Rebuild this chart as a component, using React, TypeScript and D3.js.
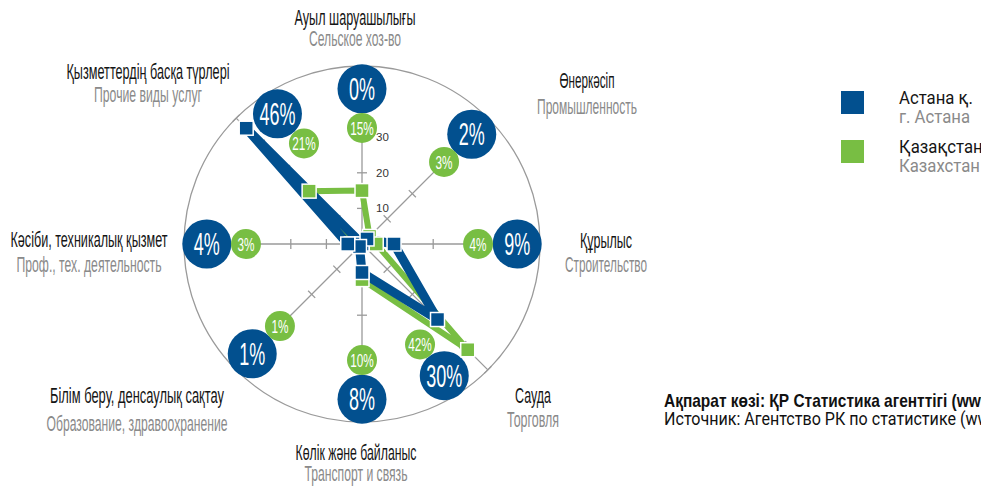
import React from 'react';
import * as d3 from 'd3';

// ---------- data ----------
const categoriesKz = [
  'Ауыл шаруашылығы',
  'Өнеркәсіп',
  'Құрылыс',
  'Сауда',
  'Көлік және байланыс',
  'Білім беру, денсаулық сақтау',
  'Кәсіби, техникалық қызмет',
  'Қызметтердің басқа түрлері',
];
const categoriesRu = [
  'Сельское хоз-во',
  'Промышленность',
  'Строительство',
  'Торговля',
  'Транспорт и связь',
  'Образование, здравоохранение',
  'Проф., тех. деятельность',
  'Прочие виды услуг',
];
const astanaValues = [0, 2, 9, 30, 8, 1, 4, 46];
const kazakhstanValues = [15, 3, 4, 42, 10, 1, 3, 21];
const radialTickValues = [10, 20, 30, 40, 50];
const radialTickLabels = [10, 20, 30];
const seriesNamesKz = ['Астана қ.', 'Қазақстан'];
const seriesNamesRu = ['г. Астана', 'Казахстан'];
const sourceKz = 'Ақпарат көзі: ҚР Статистика агенттігі (www.stat.gov.kz)';
const sourceRu = 'Источник: Агентство РК по статистике (www.stat.gov.kz)';

// ---------- layout ----------
const W = 981;
const H = 487;
const CX = 362;
const CY = 244;
const R = 178;
const BLUE = '#02508f';
const GREEN = '#78be43';
const GRID = '#9a9a9a';
const KZ_COLOR = '#151515';
const RU_COLOR = '#8a8a8a';
const LABEL_FONT = '"Liberation Sans Narrow", "Liberation Sans", Arial, sans-serif';

const labelLayout = [
  { x: 355, y1: 25, y2: 45.5, w1: 121, w2: 92 },
  { x: 587, y1: 88, y2: 114, w1: 55, w2: 100 },
  { x: 606, y1: 248, y2: 272, w1: 52, w2: 82 },
  { x: 533, y1: 403, y2: 427, w1: 36, w2: 52 },
  { x: 356, y1: 460, y2: 481, w1: 121, w2: 103 },
  { x: 137, y1: 403, y2: 431, w1: 174, w2: 181 },
  { x: 89, y1: 247, y2: 272, w1: 157, w2: 145 },
  { x: 148, y1: 79, y2: 102, w1: 163, w2: 108 },
];
const blueBubbleOffsetDeg = [0, 0, 0, 13, 0, 0, 0, 12];
const greenBubbleOffsetDeg = [0, 0, 0, 15, 0, 0, 0, 15];
const BLUE_BUBBLE_UNITS = 43.6;
const GREEN_BUBBLE_UNITS = 32.6;

export default function App() {
  const r = d3.scaleLinear().domain([0, 50]).range([0, R]);
  const ang = d3.scaleLinear().domain([0, categoriesKz.length]).range([0, 2 * Math.PI]);
  const pt = (v: number, i: number, offDeg = 0): [number, number] => {
    const a = ang(i) + (offDeg * Math.PI) / 180;
    return [CX + r(v) * Math.sin(a), CY - r(v) * Math.cos(a)];
  };
  const radial = d3
    .lineRadial<number>()
    .angle((_d, i) => ang(i))
    .radius((d) => r(d))
    .curve(d3.curveLinearClosed);

  const markerSize = 14;

  return (
    <svg
      width={W}
      height={H}
      style={{ position: 'absolute', left: 0, top: 0, background: '#fff' }}
      xmlns="http://www.w3.org/2000/svg"
    >
      {/* outer circle */}
      <circle cx={CX} cy={CY} r={r(50)} fill="none" stroke={GRID} strokeWidth={1.3} />

      {/* spokes and ticks */}
      {categoriesKz.map((_c, i) => {
        const [x2, y2] = pt(50, i);
        const a = ang(i);
        return (
          <g key={'sp' + i}>
            <line x1={CX} y1={CY} x2={x2} y2={y2} stroke={GRID} strokeWidth={1.3} />
            {radialTickValues.map((t) => {
              const [tx, ty] = pt(t, i);
              const dx = Math.cos(a) * 5;
              const dy = Math.sin(a) * 5;
              return (
                <line
                  key={t}
                  x1={tx - dx}
                  y1={ty - dy}
                  x2={tx + dx}
                  y2={ty + dy}
                  stroke={GRID}
                  strokeWidth={1.3}
                />
              );
            })}
          </g>
        );
      })}
      {radialTickLabels.map((t) => (
        <text
          key={'tl' + t}
          x={CX + 14}
          y={CY - r(t) + 4}
          fontSize={11.5}
          fontFamily='"Liberation Sans", Arial, sans-serif'
          fill="#333"
        >
          {t}
        </text>
      ))}

      {/* value bubbles */}
      {astanaValues.map((v, i) => {
        const [bx, by] = pt(BLUE_BUBBLE_UNITS, i, blueBubbleOffsetDeg[i]);
        return (
          <g key={'bb' + i}>
            <circle cx={bx} cy={by} r={24.5} fill={BLUE} />
            <text
              transform={`translate(${bx},${by}) scale(0.58,1)`}
              textAnchor="middle"
              dy="0.36em"
              fontSize={31}
              fontFamily='"Liberation Sans", Arial, sans-serif'
              fill="#fff"
            >
              {v + '%'}
            </text>
          </g>
        );
      })}
      {kazakhstanValues.map((v, i) => {
        const [bx, by] = pt(GREEN_BUBBLE_UNITS, i, greenBubbleOffsetDeg[i]);
        return (
          <g key={'gb' + i}>
            <circle cx={bx} cy={by} r={15} fill={GREEN} />
            <text
              transform={`translate(${bx},${by}) scale(0.62,1)`}
              textAnchor="middle"
              dy="0.36em"
              fontSize={19}
              fontFamily='"Liberation Sans", Arial, sans-serif'
              fill="#fff"
            >
              {v + '%'}
            </text>
          </g>
        );
      })}

      {/* series lines */}
      <path
        d={radial(kazakhstanValues) || ''}
        transform={`translate(${CX},${CY})`}
        fill="none"
        stroke={GREEN}
        strokeWidth={6}
      />
      <path
        d={radial(astanaValues) || ''}
        transform={`translate(${CX},${CY})`}
        fill="none"
        stroke={BLUE}
        strokeWidth={9}
      />

      {/* markers */}
      {kazakhstanValues.map((v, i) => {
        const [x, y] = pt(v, i);
        return (
          <rect
            key={'gm' + i}
            x={x - markerSize / 2}
            y={y - markerSize / 2}
            width={markerSize}
            height={markerSize}
            fill={GREEN}
            stroke="#fff"
            strokeWidth={1.5}
          />
        );
      })}
      {astanaValues.map((v, i) => {
        const [x, y] = pt(v, i);
        return (
          <rect
            key={'bm' + i}
            x={x - markerSize / 2}
            y={y - markerSize / 2}
            width={markerSize}
            height={markerSize}
            fill={BLUE}
            stroke="#fff"
            strokeWidth={1.5}
          />
        );
      })}

      {/* category labels */}
      {categoriesKz.map((c, i) => {
        const L = labelLayout[i];
        return (
          <g key={'lab' + i} fontFamily={LABEL_FONT} fontSize={22.5} textAnchor="middle">
            <text x={L.x} y={L.y1} fill={KZ_COLOR} textLength={L.w1} lengthAdjust="spacingAndGlyphs">
              {c}
            </text>
            <text x={L.x} y={L.y2} fill={RU_COLOR} textLength={L.w2} lengthAdjust="spacingAndGlyphs">
              {categoriesRu[i]}
            </text>
          </g>
        );
      })}

      {/* legend */}
      {seriesNamesKz.map((s, i) => (
        <g key={'lg' + i} transform={`translate(841,${91 + i * 49})`}>
          <rect x={0} y={0} width={23} height={23} fill={i === 0 ? BLUE : GREEN} />
          <text
            transform="translate(58,13) scale(0.93,1)"
            fontSize={18}
            fontFamily='Roboto, "Liberation Sans", sans-serif'
            fill={KZ_COLOR}
          >
            {s}
          </text>
          <text
            transform="translate(58,32) scale(0.93,1)"
            fontSize={18}
            fontFamily='Roboto, "Liberation Sans", sans-serif'
            fill={RU_COLOR}
          >
            {seriesNamesRu[i]}
          </text>
        </g>
      ))}

      {/* source */}
      <text
        transform="translate(664,407) scale(0.86,1)"
        fontSize={18}
        fontWeight="bold"
        fontFamily='"Liberation Sans Narrow", "Liberation Sans", sans-serif'
        fill="#111"
      >
        {sourceKz}
      </text>
      <text
        transform="translate(664,425) scale(0.92,1)"
        fontSize={17.5}
        fontFamily='Roboto, "Liberation Sans", sans-serif'
        fill="#111"
      >
        {sourceRu}
      </text>
    </svg>
  );
}
